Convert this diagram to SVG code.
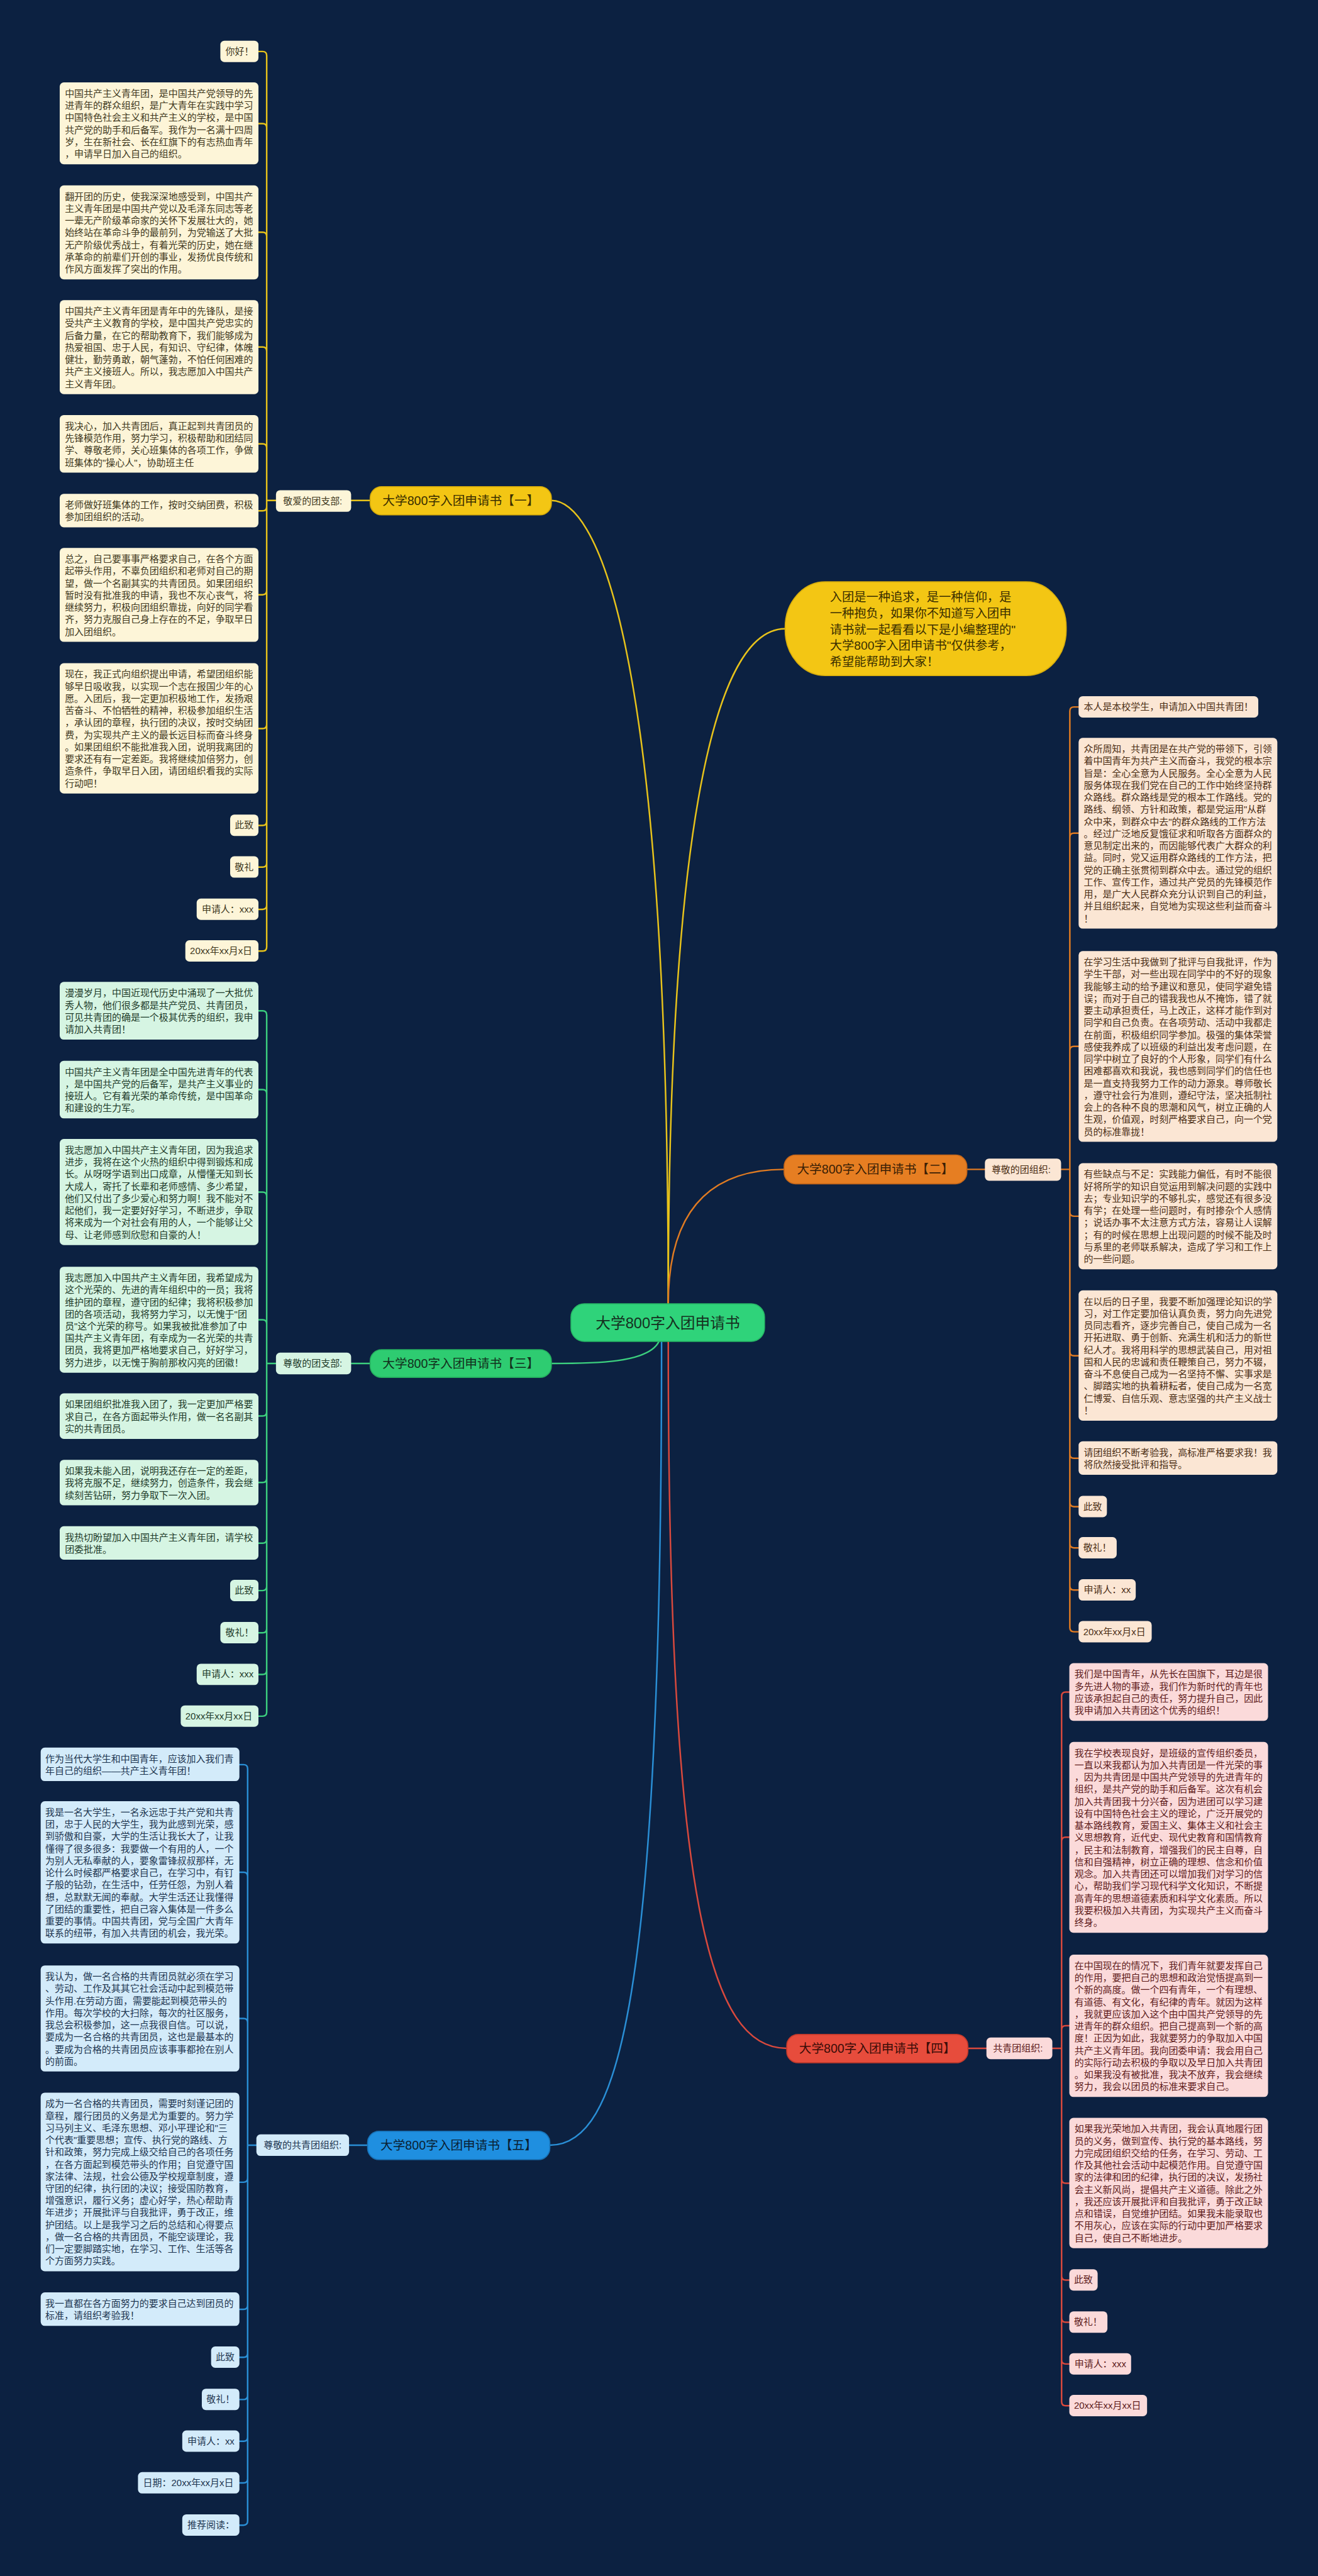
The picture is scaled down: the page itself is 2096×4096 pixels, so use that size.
<svg xmlns="http://www.w3.org/2000/svg" width="2096" height="4096" viewBox="0 0 2096 4096">
<defs>
<style>
text{font-family:"Liberation Sans","Noto Sans CJK SC",sans-serif}
.lt{font-size:18.3px}
.pt{font-size:24px;text-anchor:middle}
.ct{font-size:29px;text-anchor:middle;fill:#15301f}
.cb{font-size:23.5px;fill:#3a2e00}
.c1 rect{fill:#fdf5d8}.c1 text{fill:#40381d}
.c2 rect{fill:#fbe6d4}.c2 text{fill:#4b2e14}
.c3 rect{fill:#d6f5e3}.c3 text{fill:#1e3b2a}
.c4 rect{fill:#fbdada}.c4 text{fill:#5e1b1b}
.c5 rect{fill:#d3ebfa}.c5 text{fill:#1d3550}
.ln{fill:none;stroke-width:3;stroke-linecap:round}
</style>
</defs>
<rect width="2096" height="4096" fill="#0c2141"/>
<g transform="scale(0.81875)">

<g id="connectors">
<path class="ln" stroke="#e8c31b" d="M1071 972C1150 972 1298 1200 1298 2532"/>
<path class="ln" stroke="#e8c31b" d="M1298 2532C1298 1600 1390 1221 1525 1221"/>
<path class="ln" stroke="#e07b22" d="M1298 2532C1298 2350 1380 2271 1523 2271"/>
<path class="ln" stroke="#3ccf7e" stroke-width="4" d="M1280 2605C1260 2648 1150 2648 1071 2648"/>
<path class="ln" stroke="#d9493d" d="M1298 2605C1298 3700 1380 3978 1528 3978"/>
<path class="ln" stroke="#2a8fd6" d="M1285 2605C1285 3900 1200 4166 1068 4166"/>
<path class="ln" stroke="#e8c31b" stroke-width="4" d="M682 972H719"/>
<path class="ln" stroke="#e07b22" stroke-width="4" d="M1878 2271H1913"/>
<path class="ln" stroke="#3ccf7e" stroke-width="4" d="M682 2648H719"/>
<path class="ln" stroke="#d9493d" stroke-width="4" d="M1880 3978H1916"/>
<path class="ln" stroke="#2a8fd6" stroke-width="4" d="M678 4166H714"/>
<path class="ln" stroke="#e8c31b" d="M536 972H518V108Q518 100 510 100H502M536 972H518V248Q518 240 510 240H502M536 972H518V459Q518 451 510 451H502M536 972H518V682Q518 674 510 674H502M536 972H518V870Q518 862 510 862H502M536 972H518V984Q518 992 510 992H502M536 972H518V1147Q518 1155 510 1155H502M536 972H518V1407Q518 1415 510 1415H502M536 972H518V1595Q518 1603 510 1603H502M536 972H518V1676Q518 1684 510 1684H502M536 972H518V1758Q518 1766 510 1766H502M536 972H518V1839Q518 1847 510 1847H502"/>
<path class="ln" stroke="#e07b22" d="M2061 2271H2078V1381Q2078 1373 2086 1373H2095M2061 2271H2078V1626Q2078 1618 2086 1618H2095M2061 2271H2078V2040Q2078 2032 2086 2032H2095M2061 2271H2078V2354Q2078 2362 2086 2362H2095M2061 2271H2078V2625Q2078 2633 2086 2633H2095M2061 2271H2078V2824Q2078 2832 2086 2832H2095M2061 2271H2078V2918Q2078 2926 2086 2926H2095M2061 2271H2078V2998Q2078 3006 2086 3006H2095M2061 2271H2078V3080Q2078 3088 2086 3088H2095M2061 2271H2078V3161Q2078 3169 2086 3169H2095"/>
<path class="ln" stroke="#3ccf7e" d="M536 2648H518V1971Q518 1963 510 1963H502M536 2648H518V2124Q518 2116 510 2116H502M536 2648H518V2323Q518 2315 510 2315H502M536 2648H518V2571Q518 2563 510 2563H502M536 2648H518V2742Q518 2750 510 2750H502M536 2648H518V2871Q518 2879 510 2879H502M536 2648H518V2989Q518 2997 510 2997H502M536 2648H518V3081Q518 3089 510 3089H502M536 2648H518V3163Q518 3171 510 3171H502M536 2648H518V3244Q518 3252 510 3252H502M536 2648H518V3325Q518 3333 510 3333H502"/>
<path class="ln" stroke="#d9493d" d="M2044 3978H2062V3294Q2062 3286 2070 3286H2077M2044 3978H2062V3576Q2062 3568 2070 3568H2077M2044 3978H2062V3942Q2062 3934 2070 3934H2077M2044 3978H2062V4232Q2062 4240 2070 4240H2077M2044 3978H2062V4420Q2062 4428 2070 4428H2077M2044 3978H2062V4502Q2062 4510 2070 4510H2077M2044 3978H2062V4583Q2062 4591 2070 4591H2077M2044 3978H2062V4664Q2062 4672 2070 4672H2077"/>
<path class="ln" stroke="#2a8fd6" d="M498 4166H481V3435Q481 3427 473 3427H465M498 4166H481V3644Q481 3636 473 3636H465M498 4166H481V3928Q481 3920 473 3920H465M498 4166H481V4230Q481 4238 473 4238H465M498 4166H481V4477Q481 4485 473 4485H465M498 4166H481V4570Q481 4578 473 4578H465M498 4166H481V4652Q481 4660 473 4660H465M498 4166H481V4733Q481 4741 473 4741H465M498 4166H481V4814Q481 4822 473 4822H465M498 4166H481V4896Q481 4904 473 4904H465"/>
</g>

<g id="center">
<rect x="1109" y="2532" width="376" height="73" rx="26" fill="#2fd37a" stroke="#27b866" stroke-width="2"/>
<text class="ct" x="1297" y="2579">大学800字入团申请书</text>
</g>

<g id="intro">
<rect x="1525" y="1130" width="546" height="182" rx="78" ry="88" fill="#f3c614" stroke="#d9ae0c" stroke-width="2"/>
<text class="cb" x="1612" y="1168"><tspan x="1612">入团是一种追求，是一种信仰，是</tspan><tspan x="1612" dy="31.3">一种抱负，如果你不知道写入团申</tspan><tspan x="1612" dy="31.3">请书就一起看看以下是小编整理的"</tspan><tspan x="1612" dy="31.3">大学800字入团申请书"仅供参考，</tspan><tspan x="1612" dy="31.3">希望能帮助到大家！</tspan></text>
</g>

<g id="b1">
<rect x="719" y="945" width="352" height="55" rx="22" fill="#f3c614" stroke="#d2a80a" stroke-width="2"/>
<text class="pt" x="895" y="981" fill="#3a2e00">大学800字入团申请书【一】</text>
<g class="c1"><rect x="536" y="952" width="146" height="42" rx="8"/><text class="lt" x="550" y="979">敬爱的团支部:</text></g>
</g>
<g id="b1-leaves" class="c1">
<rect x="428" y="79" width="74" height="41.5" rx="8"/><text class="lt" x="438" y="106">你好！</text>
<rect x="116" y="160" width="386" height="159" rx="8"/><text class="lt" x="126" y="188"><tspan x="126">中国共产主义青年团，是中国共产党领导的先</tspan><tspan x="126" dy="23.5">进青年的群众组织，是广大青年在实践中学习</tspan><tspan x="126" dy="23.5">中国特色社会主义和共产主义的学校，是中国</tspan><tspan x="126" dy="23.5">共产党的助手和后备军。我作为一名满十四周</tspan><tspan x="126" dy="23.5">岁，生在新社会、长在红旗下的有志热血青年</tspan><tspan x="126" dy="23.5">，申请早日加入自己的组织。</tspan></text>
<rect x="116" y="360" width="386" height="182.5" rx="8"/><text class="lt" x="126" y="388"><tspan x="126">翻开团的历史，使我深深地感受到，中国共产</tspan><tspan x="126" dy="23.5">主义青年团是中国共产党以及毛泽东同志等老</tspan><tspan x="126" dy="23.5">一辈无产阶级革命家的关怀下发展壮大的，她</tspan><tspan x="126" dy="23.5">始终站在革命斗争的最前列，为党输送了大批</tspan><tspan x="126" dy="23.5">无产阶级优秀战士，有着光荣的历史，她在继</tspan><tspan x="126" dy="23.5">承革命的前辈们开创的事业，发扬优良传统和</tspan><tspan x="126" dy="23.5">作风方面发挥了突出的作用。</tspan></text>
<rect x="116" y="583" width="386" height="182.5" rx="8"/><text class="lt" x="126" y="611"><tspan x="126">中国共产主义青年团是青年中的先锋队，是接</tspan><tspan x="126" dy="23.5">受共产主义教育的学校，是中国共产党忠实的</tspan><tspan x="126" dy="23.5">后备力量，在它的帮助教育下，我们能够成为</tspan><tspan x="126" dy="23.5">热爱祖国、忠于人民，有知识、守纪律，体魄</tspan><tspan x="126" dy="23.5">健壮，勤劳勇敢，朝气蓬勃，不怕任何困难的</tspan><tspan x="126" dy="23.5">共产主义接班人。所以，我志愿加入中国共产</tspan><tspan x="126" dy="23.5">主义青年团。</tspan></text>
<rect x="116" y="806" width="386" height="112" rx="8"/><text class="lt" x="126" y="834"><tspan x="126">我决心，加入共青团后，真正起到共青团员的</tspan><tspan x="126" dy="23.5">先锋模范作用，努力学习，积极帮助和团结同</tspan><tspan x="126" dy="23.5">学、尊敬老师，关心班集体的各项工作，争做</tspan><tspan x="126" dy="23.5">班集体的"操心人"，协助班主任</tspan></text>
<rect x="116" y="959" width="386" height="65" rx="8"/><text class="lt" x="126" y="987"><tspan x="126">老师做好班集体的工作，按时交纳团费，积极</tspan><tspan x="126" dy="23.5">参加团组织的活动。</tspan></text>
<rect x="116" y="1064" width="386" height="182.5" rx="8"/><text class="lt" x="126" y="1092"><tspan x="126">总之，自己要事事严格要求自己，在各个方面</tspan><tspan x="126" dy="23.5">起带头作用，不辜负团组织和老师对自己的期</tspan><tspan x="126" dy="23.5">望，做一个名副其实的共青团员。如果团组织</tspan><tspan x="126" dy="23.5">暂时没有批准我的申请，我也不灰心丧气，将</tspan><tspan x="126" dy="23.5">继续努力，积极向团组织靠拢，向好的同学看</tspan><tspan x="126" dy="23.5">齐，努力克服自己身上存在的不足，争取早日</tspan><tspan x="126" dy="23.5">加入团组织。</tspan></text>
<rect x="116" y="1288" width="386" height="253" rx="8"/><text class="lt" x="126" y="1316"><tspan x="126">现在，我正式向组织提出申请，希望团组织能</tspan><tspan x="126" dy="23.5">够早日吸收我，以实现一个志在报国少年的心</tspan><tspan x="126" dy="23.5">愿。入团后，我一定更加积极地工作，发扬艰</tspan><tspan x="126" dy="23.5">苦奋斗、不怕牺牲的精神，积极参加组织生活</tspan><tspan x="126" dy="23.5">，承认团的章程，执行团的决议，按时交纳团</tspan><tspan x="126" dy="23.5">费，为实现共产主义的最长远目标而奋斗终身</tspan><tspan x="126" dy="23.5">。如果团组织不能批准我入团，说明我离团的</tspan><tspan x="126" dy="23.5">要求还有有一定差距。我将继续加倍努力，创</tspan><tspan x="126" dy="23.5">造条件，争取早日入团，请团组织看我的实际</tspan><tspan x="126" dy="23.5">行动吧！</tspan></text>
<rect x="447" y="1582" width="55" height="41.5" rx="8"/><text class="lt" x="456" y="1609">此致</text>
<rect x="447" y="1663" width="55" height="41.5" rx="8"/><text class="lt" x="456" y="1690">敬礼</text>
<rect x="382" y="1745" width="120" height="41.5" rx="8"/><text class="lt" x="392" y="1772">申请人：xxx</text>
<rect x="360" y="1826" width="142" height="41.5" rx="8"/><text class="lt" x="369" y="1853">20xx年xx月x日</text>
</g>

<g id="b2">
<rect x="1523" y="2243" width="355" height="56" rx="22" fill="#e67e22" stroke="#c4661a" stroke-width="2"/>
<text class="pt" x="1700" y="2279" fill="#3b1f05">大学800字入团申请书【二】</text>
<g class="c2"><rect x="1913" y="2250" width="148" height="43" rx="8"/><text class="lt" x="1926" y="2278">尊敬的团组织:</text></g>
</g>
<g id="b2-leaves" class="c2">
<rect x="2095" y="1352" width="349" height="41.5" rx="8"/><text class="lt" x="2105" y="1379">本人是本校学生，申请加入中国共青团！</text>
<rect x="2095" y="1433" width="386" height="370.5" rx="8"/><text class="lt" x="2105" y="1461"><tspan x="2105">众所周知，共青团是在共产党的带领下，引领</tspan><tspan x="2105" dy="23.5">着中国青年为共产主义而奋斗，我党的根本宗</tspan><tspan x="2105" dy="23.5">旨是：全心全意为人民服务。全心全意为人民</tspan><tspan x="2105" dy="23.5">服务体现在我们党在自己的工作中始终坚持群</tspan><tspan x="2105" dy="23.5">众路线。群众路线是党的根本工作路线。党的</tspan><tspan x="2105" dy="23.5">路线、纲领、方针和政策，都是党运用"从群</tspan><tspan x="2105" dy="23.5">众中来，到群众中去"的群众路线的工作方法</tspan><tspan x="2105" dy="23.5">。经过广泛地反复饿征求和听取各方面群众的</tspan><tspan x="2105" dy="23.5">意见制定出来的，而因能够代表广大群众的利</tspan><tspan x="2105" dy="23.5">益。同时，党又运用群众路线的工作方法，把</tspan><tspan x="2105" dy="23.5">党的正确主张贯彻到群众中去。通过党的组织</tspan><tspan x="2105" dy="23.5">工作、宣传工作，通过共产党员的先锋模范作</tspan><tspan x="2105" dy="23.5">用，是广大人民群众充分认识到自己的利益，</tspan><tspan x="2105" dy="23.5">并且组织起来，自觉地为实现这些利益而奋斗</tspan><tspan x="2105" dy="23.5">！</tspan></text>
<rect x="2095" y="1847" width="386" height="370.5" rx="8"/><text class="lt" x="2105" y="1875"><tspan x="2105">在学习生活中我做到了批评与自我批评，作为</tspan><tspan x="2105" dy="23.5">学生干部，对一些出现在同学中的不好的现象</tspan><tspan x="2105" dy="23.5">我能够主动的给予建议和意见，使同学避免错</tspan><tspan x="2105" dy="23.5">误；而对于自己的错我我也从不掩饰，错了就</tspan><tspan x="2105" dy="23.5">要主动承担责任，马上改正，这样才能作到对</tspan><tspan x="2105" dy="23.5">同学和自己负责。在各项劳动、活动中我都走</tspan><tspan x="2105" dy="23.5">在前面，积极组织同学参加。极强的集体荣誉</tspan><tspan x="2105" dy="23.5">感使我养成了以班级的利益出发考虑问题，在</tspan><tspan x="2105" dy="23.5">同学中树立了良好的个人形象，同学们有什么</tspan><tspan x="2105" dy="23.5">困难都喜欢和我说，我也感到同学们的信任也</tspan><tspan x="2105" dy="23.5">是一直支持我努力工作的动力源泉。尊师敬长</tspan><tspan x="2105" dy="23.5">，遵守社会行为准则，遵纪守法，坚决抵制社</tspan><tspan x="2105" dy="23.5">会上的各种不良的思潮和风气，树立正确的人</tspan><tspan x="2105" dy="23.5">生观，价值观，时刻严格要求自己，向一个党</tspan><tspan x="2105" dy="23.5">员的标准靠拢！</tspan></text>
<rect x="2095" y="2259" width="386" height="206" rx="8"/><text class="lt" x="2105" y="2287"><tspan x="2105">有些缺点与不足：实践能力偏低，有时不能很</tspan><tspan x="2105" dy="23.5">好将所学的知识自觉运用到解决问题的实践中</tspan><tspan x="2105" dy="23.5">去；专业知识学的不够扎实，感觉还有很多没</tspan><tspan x="2105" dy="23.5">有学；在处理一些问题时，有时掺杂个人感情</tspan><tspan x="2105" dy="23.5">；说话办事不太注意方式方法，容易让人误解</tspan><tspan x="2105" dy="23.5">；有的时候在思想上出现问题的时候不能及时</tspan><tspan x="2105" dy="23.5">与系里的老师联系解决，造成了学习和工作上</tspan><tspan x="2105" dy="23.5">的一些问题。</tspan></text>
<rect x="2095" y="2506" width="386" height="253" rx="8"/><text class="lt" x="2105" y="2534"><tspan x="2105">在以后的日子里，我要不断加强理论知识的学</tspan><tspan x="2105" dy="23.5">习，对工作定要加倍认真负责，努力向先进党</tspan><tspan x="2105" dy="23.5">员同志看齐，逐步完善自己，使自己成为一名</tspan><tspan x="2105" dy="23.5">开拓进取、勇于创新、充满生机和活力的新世</tspan><tspan x="2105" dy="23.5">纪人才。我将用科学的思想武装自己，用对祖</tspan><tspan x="2105" dy="23.5">国和人民的忠诚和责任鞭策自己，努力不辍，</tspan><tspan x="2105" dy="23.5">奋斗不息使自己成为一名坚持不懈、实事求是</tspan><tspan x="2105" dy="23.5">、脚踏实地的执着耕耘者，使自己成为一名宽</tspan><tspan x="2105" dy="23.5">仁博爱、自信乐观、意志坚强的共产主义战士</tspan><tspan x="2105" dy="23.5">！</tspan></text>
<rect x="2095" y="2799" width="386" height="65" rx="8"/><text class="lt" x="2105" y="2827"><tspan x="2105">请团组织不断考验我，高标准严格要求我！我</tspan><tspan x="2105" dy="23.5">将欣然接受批评和指导。</tspan></text>
<rect x="2095" y="2905" width="55" height="41.5" rx="8"/><text class="lt" x="2104" y="2932">此致</text>
<rect x="2095" y="2985" width="74" height="41.5" rx="8"/><text class="lt" x="2104" y="3012">敬礼！</text>
<rect x="2095" y="3067" width="111" height="41.5" rx="8"/><text class="lt" x="2105" y="3094">申请人：xx</text>
<rect x="2095" y="3148" width="142" height="41.5" rx="8"/><text class="lt" x="2104" y="3175">20xx年xx月x日</text>
</g>

<g id="b3">
<rect x="719" y="2621" width="352" height="54" rx="22" fill="#2ecc71" stroke="#25ad5e" stroke-width="2"/>
<text class="pt" x="895" y="2656" fill="#12301d">大学800字入团申请书【三】</text>
<g class="c3"><rect x="536" y="2627" width="146" height="42" rx="8"/><text class="lt" x="550" y="2654">尊敬的团支部:</text></g>
</g>
<g id="b3-leaves" class="c3">
<rect x="116" y="1907" width="386" height="112" rx="8"/><text class="lt" x="126" y="1935"><tspan x="126">漫漫岁月，中国近现代历史中涌现了一大批优</tspan><tspan x="126" dy="23.5">秀人物，他们很多都是共产党员、共青团员，</tspan><tspan x="126" dy="23.5">可见共青团的确是一个极其优秀的组织，我申</tspan><tspan x="126" dy="23.5">请加入共青团！</tspan></text>
<rect x="116" y="2060" width="386" height="112" rx="8"/><text class="lt" x="126" y="2088"><tspan x="126">中国共产主义青年团是全中国先进青年的代表</tspan><tspan x="126" dy="23.5">，是中国共产党的后备军，是共产主义事业的</tspan><tspan x="126" dy="23.5">接班人。它有着光荣的革命传统，是中国革命</tspan><tspan x="126" dy="23.5">和建设的生力军。</tspan></text>
<rect x="116" y="2212" width="386" height="206" rx="8"/><text class="lt" x="126" y="2240"><tspan x="126">我志愿加入中国共产主义青年团，因为我追求</tspan><tspan x="126" dy="23.5">进步，我将在这个火热的组织中得到锻炼和成</tspan><tspan x="126" dy="23.5">长。从呀呀学语到出口成章，从懵懂无知到长</tspan><tspan x="126" dy="23.5">大成人，寄托了长辈和老师感情、多少希望，</tspan><tspan x="126" dy="23.5">他们又付出了多少爱心和努力啊！我不能对不</tspan><tspan x="126" dy="23.5">起他们，我一定要好好学习，不断进步，争取</tspan><tspan x="126" dy="23.5">将来成为一个对社会有用的人，一个能够让父</tspan><tspan x="126" dy="23.5">母、让老师感到欣慰和自豪的人！</tspan></text>
<rect x="116" y="2460" width="386" height="206" rx="8"/><text class="lt" x="126" y="2488"><tspan x="126">我志愿加入中国共产主义青年团，我希望成为</tspan><tspan x="126" dy="23.5">这个光荣的、先进的青年组织中的一员；我将</tspan><tspan x="126" dy="23.5">维护团的章程，遵守团的纪律；我将积极参加</tspan><tspan x="126" dy="23.5">团的各项活动，我将努力学习，以无愧于"团</tspan><tspan x="126" dy="23.5">员"这个光荣的称号。如果我被批准参加了中</tspan><tspan x="126" dy="23.5">国共产主义青年团，有幸成为一名光荣的共青</tspan><tspan x="126" dy="23.5">团员，我将更加严格地要求自己，好好学习，</tspan><tspan x="126" dy="23.5">努力进步，以无愧于胸前那枚闪亮的团徽！</tspan></text>
<rect x="116" y="2706" width="386" height="88.5" rx="8"/><text class="lt" x="126" y="2734"><tspan x="126">如果团组织批准我入团了，我一定更加严格要</tspan><tspan x="126" dy="23.5">求自己，在各方面起带头作用，做一名名副其</tspan><tspan x="126" dy="23.5">实的共青团员。</tspan></text>
<rect x="116" y="2835" width="386" height="88.5" rx="8"/><text class="lt" x="126" y="2863"><tspan x="126">如果我未能入团，说明我还存在一定的差距，</tspan><tspan x="126" dy="23.5">我将克服不足，继续努力，创造条件，我会继</tspan><tspan x="126" dy="23.5">续刻苦钻研，努力争取下一次入团。</tspan></text>
<rect x="116" y="2964" width="386" height="65" rx="8"/><text class="lt" x="126" y="2992"><tspan x="126">我热切盼望加入中国共产主义青年团，请学校</tspan><tspan x="126" dy="23.5">团委批准。</tspan></text>
<rect x="447" y="3068" width="55" height="41.5" rx="8"/><text class="lt" x="456" y="3095">此致</text>
<rect x="428" y="3150" width="74" height="41.5" rx="8"/><text class="lt" x="438" y="3177">敬礼！</text>
<rect x="382" y="3231" width="120" height="41.5" rx="8"/><text class="lt" x="392" y="3258">申请人：xxx</text>
<rect x="351" y="3312" width="151" height="41.5" rx="8"/><text class="lt" x="360" y="3339">20xx年xx月xx日</text>
</g>

<g id="b4">
<rect x="1528" y="3951" width="352" height="55" rx="22" fill="#e74c3c" stroke="#c23a2c" stroke-width="2"/>
<text class="pt" x="1704" y="3987" fill="#3a0d08">大学800字入团申请书【四】</text>
<g class="c4"><rect x="1916" y="3957" width="128" height="42" rx="8"/><text class="lt" x="1929" y="3984">共青团组织:</text></g>
</g>
<g id="b4-leaves" class="c4">
<rect x="2077" y="3230" width="386" height="112" rx="8"/><text class="lt" x="2087" y="3258"><tspan x="2087">我们是中国青年，从先长在国旗下，耳边是很</tspan><tspan x="2087" dy="23.5">多先进人物的事迹，我们作为新时代的青年也</tspan><tspan x="2087" dy="23.5">应该承担起自己的责任，努力提升自己，因此</tspan><tspan x="2087" dy="23.5">我申请加入共青团这个优秀的组织！</tspan></text>
<rect x="2077" y="3383" width="386" height="370.5" rx="8"/><text class="lt" x="2087" y="3411"><tspan x="2087">我在学校表现良好，是班级的宣传组织委员，</tspan><tspan x="2087" dy="23.5">一直以来我都认为加入共青团是一件光荣的事</tspan><tspan x="2087" dy="23.5">，因为共青团是中国共产党领导的先进青年的</tspan><tspan x="2087" dy="23.5">组织，是共产党的助手和后备军。这次有机会</tspan><tspan x="2087" dy="23.5">加入共青团我十分兴奋，因为进团可以学习建</tspan><tspan x="2087" dy="23.5">设有中国特色社会主义的理论，广泛开展党的</tspan><tspan x="2087" dy="23.5">基本路线教育，爱国主义、集体主义和社会主</tspan><tspan x="2087" dy="23.5">义思想教育，近代史、现代史教育和国情教育</tspan><tspan x="2087" dy="23.5">，民主和法制教育，增强我们的民主自尊，自</tspan><tspan x="2087" dy="23.5">信和自强精神，树立正确的理想、信念和价值</tspan><tspan x="2087" dy="23.5">观念。加入共青团还可以增加我们对学习的信</tspan><tspan x="2087" dy="23.5">心，帮助我们学习现代科学文化知识，不断提</tspan><tspan x="2087" dy="23.5">高青年的思想道德素质和科学文化素质。所以</tspan><tspan x="2087" dy="23.5">我要积极加入共青团，为实现共产主义而奋斗</tspan><tspan x="2087" dy="23.5">终身。</tspan></text>
<rect x="2077" y="3796" width="386" height="276.5" rx="8"/><text class="lt" x="2087" y="3824"><tspan x="2087">在中国现在的情况下，我们青年就要发挥自己</tspan><tspan x="2087" dy="23.5">的作用，要把自己的思想和政治觉悟提高到一</tspan><tspan x="2087" dy="23.5">个新的高度。做一个四有青年，一个有理想、</tspan><tspan x="2087" dy="23.5">有道德、有文化，有纪律的青年。就因为这样</tspan><tspan x="2087" dy="23.5">，我就更应该加入这个由中国共产党领导的先</tspan><tspan x="2087" dy="23.5">进青年的群众组织。把自己提高到一个新的高</tspan><tspan x="2087" dy="23.5">度！正因为如此，我就要努力的争取加入中国</tspan><tspan x="2087" dy="23.5">共产主义青年团。我向团委申请：我会用自己</tspan><tspan x="2087" dy="23.5">的实际行动去积极的争取以及早日加入共青团</tspan><tspan x="2087" dy="23.5">。如果我没有被批准，我决不放弃，我会继续</tspan><tspan x="2087" dy="23.5">努力，我会以团员的标准来要求自己。</tspan></text>
<rect x="2077" y="4113" width="386" height="253" rx="8"/><text class="lt" x="2087" y="4141"><tspan x="2087">如果我光荣地加入共青团，我会认真地履行团</tspan><tspan x="2087" dy="23.5">员的义务，做到宣传、执行党的基本路线，努</tspan><tspan x="2087" dy="23.5">力完成团组织交给的任务，在学习、劳动、工</tspan><tspan x="2087" dy="23.5">作及其他社会活动中起模范作用。自觉遵守国</tspan><tspan x="2087" dy="23.5">家的法律和团的纪律，执行团的决议，发扬社</tspan><tspan x="2087" dy="23.5">会主义新风尚，提倡共产主义道德。除此之外</tspan><tspan x="2087" dy="23.5">，我还应该开展批评和自我批评，勇于改正缺</tspan><tspan x="2087" dy="23.5">点和错误，自觉维护团结。如果我未能录取也</tspan><tspan x="2087" dy="23.5">不用灰心，应该在实际的行动中更加严格要求</tspan><tspan x="2087" dy="23.5">自己，使自己不断地进步。</tspan></text>
<rect x="2077" y="4407" width="55" height="41.5" rx="8"/><text class="lt" x="2086" y="4434">此致</text>
<rect x="2077" y="4489" width="74" height="41.5" rx="8"/><text class="lt" x="2086" y="4516">敬礼！</text>
<rect x="2077" y="4570" width="120" height="41.5" rx="8"/><text class="lt" x="2087" y="4597">申请人：xxx</text>
<rect x="2077" y="4651" width="151" height="41.5" rx="8"/><text class="lt" x="2086" y="4678">20xx年xx月xx日</text>
</g>

<g id="b5">
<rect x="714" y="4139" width="354" height="55" rx="22" fill="#1f8fe0" stroke="#1873b8" stroke-width="2"/>
<text class="pt" x="891" y="4175" fill="#0a1f33">大学800字入团申请书【五】</text>
<g class="c5"><rect x="498" y="4145" width="180" height="42" rx="8"/><text class="lt" x="512" y="4172">尊敬的共青团组织:</text></g>
</g>
<g id="b5-leaves" class="c5">
<rect x="79" y="3394" width="386" height="65" rx="8"/><text class="lt" x="88" y="3422"><tspan x="88">作为当代大学生和中国青年，应该加入我们青</tspan><tspan x="88" dy="23.5">年自己的组织——共产主义青年团！</tspan></text>
<rect x="79" y="3498" width="386" height="276.5" rx="8"/><text class="lt" x="88" y="3526"><tspan x="88">我是一名大学生，一名永远忠于共产党和共青</tspan><tspan x="88" dy="23.5">团，忠于人民的大学生，我为此感到光荣，感</tspan><tspan x="88" dy="23.5">到骄傲和自豪，大学的生活让我长大了，让我</tspan><tspan x="88" dy="23.5">懂得了很多很多：我要做一个有用的人，一个</tspan><tspan x="88" dy="23.5">为别人无私奉献的人，要象雷锋叔叔那样，无</tspan><tspan x="88" dy="23.5">论什么时候都严格要求自己，在学习中，有钉</tspan><tspan x="88" dy="23.5">子般的钻劲，在生活中，任劳任怨，为别人着</tspan><tspan x="88" dy="23.5">想，总默默无闻的奉献。大学生活还让我懂得</tspan><tspan x="88" dy="23.5">了团结的重要性，把自己容入集体是一件多么</tspan><tspan x="88" dy="23.5">重要的事情。中国共青团，党与全国广大青年</tspan><tspan x="88" dy="23.5">联系的纽带，有加入共青团的机会，我光荣。</tspan></text>
<rect x="79" y="3817" width="386" height="206" rx="8"/><text class="lt" x="88" y="3845"><tspan x="88">我认为，做一名合格的共青团员就必须在学习</tspan><tspan x="88" dy="23.5">、劳动、工作及其其它社会活动中起到模范带</tspan><tspan x="88" dy="23.5">头作用.在劳动方面，需要能起到模范带头的</tspan><tspan x="88" dy="23.5">作用。每次学校的大扫除，每次的社区服务，</tspan><tspan x="88" dy="23.5">我总会积极参加，这一点我很自信。可以说，</tspan><tspan x="88" dy="23.5">要成为一名合格的共青团员，这也是最基本的</tspan><tspan x="88" dy="23.5">。要成为合格的共青团员应该事事都抢在别人</tspan><tspan x="88" dy="23.5">的前面。</tspan></text>
<rect x="79" y="4064" width="386" height="347" rx="8"/><text class="lt" x="88" y="4092"><tspan x="88">成为一名合格的共青团员，需要时刻谨记团的</tspan><tspan x="88" dy="23.5">章程，履行团员的义务是尤为重要的。努力学</tspan><tspan x="88" dy="23.5">习马列主义、毛泽东思想、邓小平理论和"三</tspan><tspan x="88" dy="23.5">个代表"重要思想；宣传、执行党的路线、方</tspan><tspan x="88" dy="23.5">针和政策，努力完成上级交给自己的各项任务</tspan><tspan x="88" dy="23.5">，在各方面起到模范带头的作用；自觉遵守国</tspan><tspan x="88" dy="23.5">家法律、法规，社会公德及学校规章制度，遵</tspan><tspan x="88" dy="23.5">守团的纪律，执行团的决议；接受国防教育，</tspan><tspan x="88" dy="23.5">增强意识，履行义务；虚心好学，热心帮助青</tspan><tspan x="88" dy="23.5">年进步；开展批评与自我批评，勇于改正，维</tspan><tspan x="88" dy="23.5">护团结。以上是我学习之后的总结和心得要点</tspan><tspan x="88" dy="23.5">，做一名合格的共青团员，不能空谈理论，我</tspan><tspan x="88" dy="23.5">们一定要脚踏实地，在学习、工作、生活等各</tspan><tspan x="88" dy="23.5">个方面努力实践。</tspan></text>
<rect x="79" y="4452" width="386" height="65" rx="8"/><text class="lt" x="88" y="4480"><tspan x="88">我一直都在各方面努力的要求自己达到团员的</tspan><tspan x="88" dy="23.5">标准，请组织考验我！</tspan></text>
<rect x="410" y="4557" width="55" height="41.5" rx="8"/><text class="lt" x="419" y="4584">此致</text>
<rect x="392" y="4639" width="73" height="41.5" rx="8"/><text class="lt" x="401" y="4666">敬礼！</text>
<rect x="354" y="4720" width="111" height="41.5" rx="8"/><text class="lt" x="364" y="4747">申请人：xx</text>
<rect x="268" y="4801" width="197" height="41.5" rx="8"/><text class="lt" x="278" y="4828">日期：20xx年xx月x日</text>
<rect x="354" y="4883" width="111" height="41.5" rx="8"/><text class="lt" x="364" y="4910">推荐阅读：</text>
</g>

</g>
</svg>
